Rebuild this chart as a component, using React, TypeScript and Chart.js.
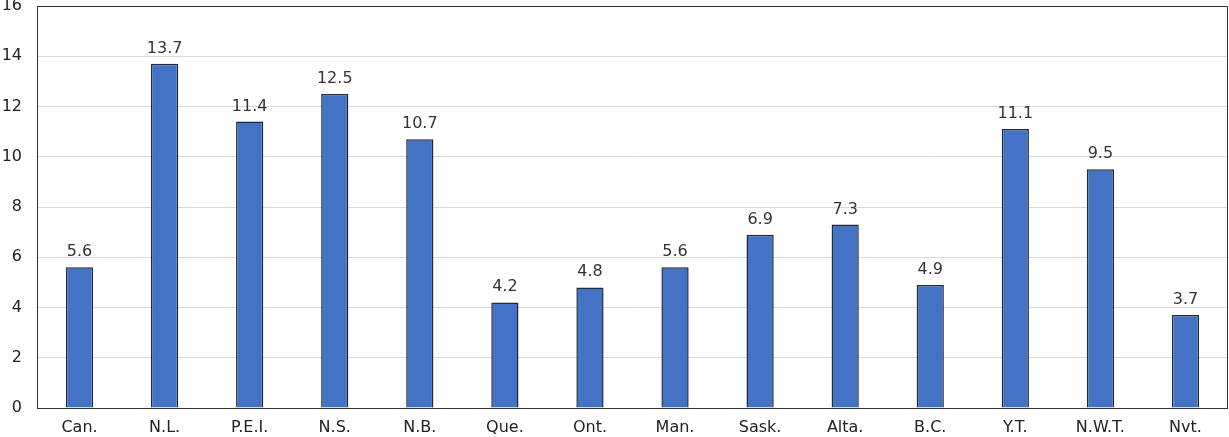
import React, { useEffect, useRef } from "react";
import { Chart, registerables } from "chart.js";

Chart.register(...registerables);

const categories = ["Can.", "N.L.", "P.E.I.", "N.S.", "N.B.", "Que.", "Ont.", "Man.", "Sask.", "Alta.", "B.C.", "Y.T.", "N.W.T.", "Nvt."];
const values = [5.6, 13.7, 11.4, 12.5, 10.7, 4.2, 4.8, 5.6, 6.9, 7.3, 4.9, 11.1, 9.5, 3.7];
const yTicks = [0, 2, 4, 6, 8, 10, 12, 14, 16];

const FONT = "DejaVu Sans";
const FONT_SIZE = 16;

const framePlugin = {
  id: "frame",
  afterDatasetsDraw(chart: any) {
    const { ctx, chartArea } = chart;
    ctx.save();
    ctx.strokeStyle = "#333333";
    ctx.lineWidth = 1;
    ctx.strokeRect(
      Math.round(chartArea.left) + 0.5,
      Math.round(chartArea.top) + 0.5,
      Math.round(chartArea.right - chartArea.left) - 1,
      Math.round(chartArea.bottom - chartArea.top)
    );
    ctx.restore();
  },
};

const labelPlugin = {
  id: "valueLabels",
  afterDatasetsDraw(chart: any) {
    const { ctx } = chart;
    const meta = chart.getDatasetMeta(0);
    ctx.save();
    ctx.font = `${FONT_SIZE}px "${FONT}"`;
    ctx.fillStyle = "#333333";
    ctx.textAlign = "center";
    ctx.textBaseline = "alphabetic";
    meta.data.forEach((bar: any, i: number) => {
      const v = chart.data.datasets[0].data[i];
      ctx.fillText(v.toFixed(1), bar.x, bar.y - 11);
    });
    ctx.restore();
  },
};

export default function App() {
  const ref = useRef<HTMLCanvasElement>(null);
  useEffect(() => {
    if (!ref.current) return;
    const chart = new Chart(ref.current, {
      type: "bar",
      data: {
        labels: categories,
        datasets: [
          {
            data: values,
            backgroundColor: "#4472C4",
            borderColor: "#1f2a3a",
            borderWidth: 1.5,
            categoryPercentage: 1,
            barPercentage: 0.32,
          },
        ],
      },
      options: {
        animation: false,
        responsive: false,
        maintainAspectRatio: false,
        layout: { padding: { top: 6, right: 1, left: 0, bottom: 0 } },
        plugins: { legend: { display: false }, tooltip: { enabled: false } },
        scales: {
          x: {
            grid: { display: false, drawTicks: false },
            border: { display: false },
            ticks: { color: "#222222", font: { family: FONT, size: FONT_SIZE }, padding: 10, maxRotation: 0, autoSkip: false },
            afterFit(scale: any) {
              scale.height = 29;
              scale.paddingLeft = 0;
              scale.paddingRight = 0;
            },
          },
          y: {
            min: 0,
            max: 16,
            afterBuildTicks(scale: any) {
              scale.ticks = yTicks.map((v) => ({ value: v }));
            },
            grid: { color: "#d9d9d9", drawTicks: false, lineWidth: 1 },
            border: { display: false },
            ticks: { color: "#222222", font: { family: FONT, size: FONT_SIZE }, padding: 15 },
            afterFit(scale: any) {
              scale.width = 37;
              scale.paddingTop = 0;
              scale.paddingBottom = 0;
            },
          },
        },
      },
      plugins: [framePlugin, labelPlugin],
    });
    return () => chart.destroy();
  }, []);
  return (
    <div style={{ position: "absolute", left: 0, top: 0, width: 1229, height: 437, background: "#fff" }}>
      <canvas ref={ref} width={1229} height={437} style={{ display: "block" }} />
    </div>
  );
}
